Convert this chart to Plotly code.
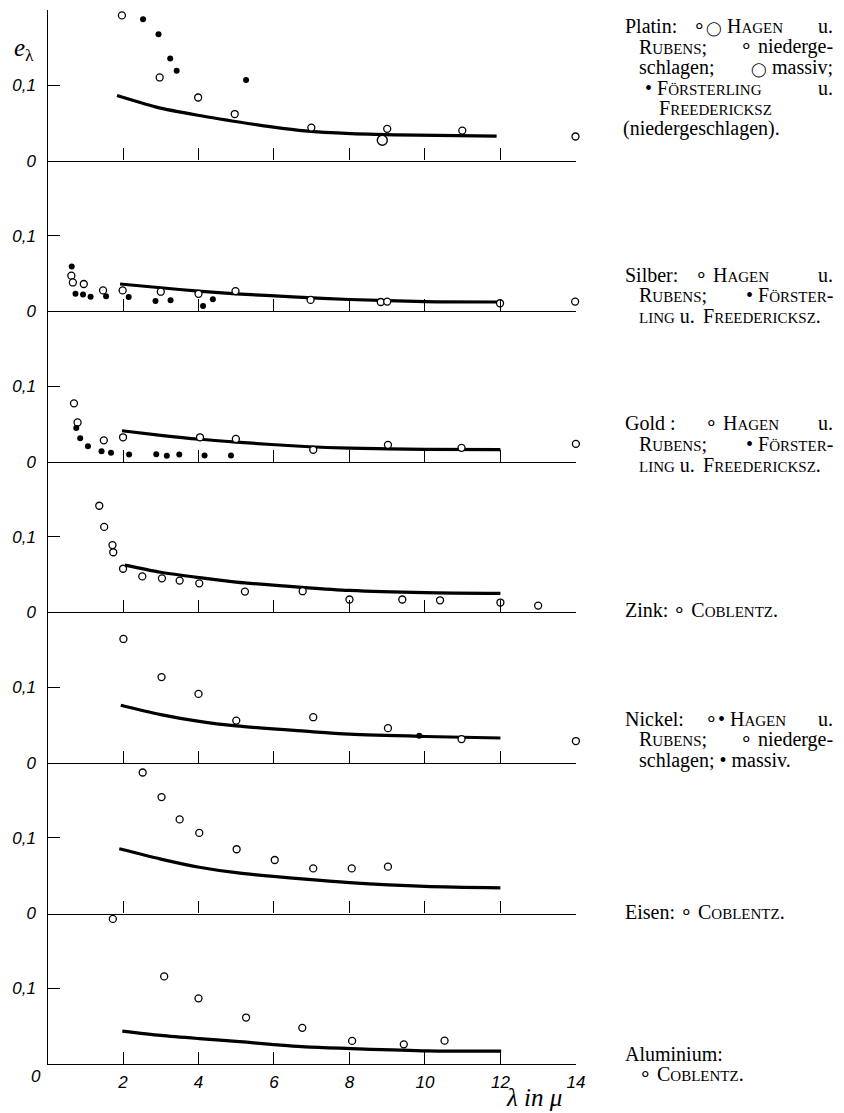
import plotly.graph_objects as go

W, H = 844, 1113
X0, X1 = 40, 574          # pixel extent of x axis (0..14)
PX_PER_UNIT_Y = 763.0     # pixels per unit of e_lambda
BASE0, STEP = 154.0, 151.95

panels = ["Platin", "Silber", "Gold", "Zink", "Nickel", "Eisen", "Aluminium"]

# ---------------- data ----------------
# Platin
pt_open_x = [1.97, 2.97, 3.99, 4.96, 6.99, 9.0, 10.99, 13.99]
pt_open_y = [0.192, 0.110, 0.0835, 0.0616, 0.0437, 0.042, 0.0397, 0.0319]
pt_big_x = [8.87]
pt_big_y = [0.027]
pt_fill_x = [2.53, 2.94, 3.25, 3.42, 5.26]
pt_fill_y = [0.187, 0.167, 0.135, 0.119, 0.1066]
pt_curve_x = [1.84, 2.88, 3.98, 5.07, 5.94, 6.82, 8.04, 9.79, 11.9]
pt_curve_y = [0.086, 0.0708, 0.060, 0.0511, 0.0446, 0.0393, 0.0358, 0.0337, 0.0323]

# Silber
ag_open_x = [0.63, 0.67, 0.96, 1.47, 1.99, 3.0, 4.0, 4.98, 6.97, 8.83, 9.0, 11.99, 13.98]
ag_open_y = [0.047, 0.038, 0.036, 0.0275, 0.0275, 0.0258, 0.023, 0.0266, 0.0149, 0.0122, 0.0127, 0.0105, 0.0127]
ag_fill_x = [0.64, 0.74, 0.94, 1.14, 1.55, 2.15, 2.86, 3.26, 4.12, 4.38]
ag_fill_y = [0.059, 0.023, 0.022, 0.019, 0.0197, 0.0187, 0.0135, 0.0144, 0.007, 0.0157]
ag_curve_x = [1.92, 3.0, 4.0, 5.0, 6.5, 8.0, 10.0, 11.97]
ag_curve_y = [0.036, 0.031, 0.0265, 0.023, 0.019, 0.0155, 0.0127, 0.0122]

# Gold
au_open_x = [0.70, 0.795, 1.49, 2.0, 4.04, 4.99, 7.04, 9.02, 10.97, 14.0]
au_open_y = [0.0773, 0.052, 0.0284, 0.0324, 0.0324, 0.0302, 0.0158, 0.0224, 0.0184, 0.0237]
au_fill_x = [0.76, 0.865, 1.07, 1.43, 1.68, 2.16, 2.88, 3.16, 3.49, 4.16, 4.86]
au_fill_y = [0.0448, 0.031, 0.0206, 0.014, 0.0118, 0.0097, 0.0101, 0.0079, 0.0097, 0.0084, 0.0084]
au_curve_x = [1.97, 3.0, 4.02, 5.0, 6.82, 8.0, 10.0, 12.0]
au_curve_y = [0.041, 0.035, 0.0298, 0.026, 0.0202, 0.018, 0.0165, 0.016]

# Zink
zn_open_x = [1.37, 1.50, 1.72, 1.74, 2.0, 2.51, 3.03, 3.50, 4.02, 5.23, 6.76, 8.0, 9.4, 10.4, 12.0, 13.0]
zn_open_y = [0.141, 0.113, 0.089, 0.0795, 0.0577, 0.0476, 0.045, 0.042, 0.0384, 0.0275, 0.028, 0.017, 0.017, 0.016, 0.013, 0.009]
zn_curve_x = [2.05, 3.0, 4.02, 5.0, 6.82, 8.0, 10.0, 12.0]
zn_curve_y = [0.0625, 0.053, 0.0459, 0.040, 0.0328, 0.029, 0.026, 0.025]

# Nickel
ni_open_x = [2.01, 3.02, 4.0, 5.0, 7.04, 9.02, 10.97, 14.0]
ni_open_y = [0.164, 0.1136, 0.0913, 0.056, 0.0605, 0.046, 0.0316, 0.029]
ni_fill_x = [9.85]
ni_fill_y = [0.036]
ni_curve_x = [1.94, 3.0, 4.02, 5.0, 6.82, 8.0, 10.0, 12.0]
ni_curve_y = [0.0764, 0.064, 0.055, 0.049, 0.042, 0.038, 0.035, 0.033]

# Eisen
fe_open_x = [2.52, 3.02, 3.5, 4.02, 5.01, 6.02, 7.04, 8.06, 9.02]
fe_open_y = [0.1865, 0.154, 0.1245, 0.1066, 0.085, 0.0708, 0.0597, 0.0597, 0.062]
fe_curve_x = [1.9, 3.0, 4.02, 5.0, 6.82, 8.0, 10.0, 12.0]
fe_curve_y = [0.0856, 0.072, 0.0612, 0.054, 0.0455, 0.041, 0.036, 0.034]

# Aluminium
al_open_x = [1.73, 3.09, 4.0, 5.26, 6.75, 8.07, 9.44, 10.52]
al_open_y = [0.192, 0.116, 0.087, 0.0616, 0.048, 0.0307, 0.0262, 0.031]
al_curve_x = [1.98, 3.0, 4.02, 5.0, 6.82, 8.04, 10.05, 12.02]
al_curve_y = [0.0437, 0.038, 0.0337, 0.030, 0.0228, 0.0206, 0.0176, 0.0171]

x_ticks = [2, 4, 6, 8, 10, 12, 14]
x_ticktext = ["2", "4", "6", "8", "10", "12", "14"]
y_ticks = [0, 0.1]
y_ticktext = ["0", "0,1"]

# --------------------------------------------------------------
panel_data = [
    dict(open=(pt_open_x, pt_open_y), big=(pt_big_x, pt_big_y), fill=(pt_fill_x, pt_fill_y), curve=(pt_curve_x, pt_curve_y)),
    dict(open=(ag_open_x, ag_open_y), fill=(ag_fill_x, ag_fill_y), curve=(ag_curve_x, ag_curve_y)),
    dict(open=(au_open_x, au_open_y), fill=(au_fill_x, au_fill_y), curve=(au_curve_x, au_curve_y)),
    dict(open=(zn_open_x, zn_open_y), curve=(zn_curve_x, zn_curve_y)),
    dict(open=(ni_open_x, ni_open_y), fill=(ni_fill_x, ni_fill_y), curve=(ni_curve_x, ni_curve_y)),
    dict(open=(fe_open_x, fe_open_y), curve=(fe_curve_x, fe_curve_y)),
    dict(open=(al_open_x, al_open_y), curve=(al_curve_x, al_curve_y)),
]

fig = go.Figure()
tickfont = dict(family="Liberation Sans", size=17, color="black", style="italic")
layout = dict(
    width=W, height=H, margin=dict(l=0, r=0, t=0, b=0),
    paper_bgcolor="white", plot_bgcolor="rgba(0,0,0,0)",
    showlegend=False,
)
n = len(panels)
yrange_top = STEP / PX_PER_UNIT_Y
for i, d in enumerate(panel_data):
    k = "" if i == 0 else str(i + 1)
    xa, ya = "x" + k, "y" + k
    base = BASE0 + i * STEP
    y0 = (H - base) / H
    y1 = min(1.0, (H - base + STEP) / H)
    last = i == n - 1
    layout["xaxis" + k] = dict(
        domain=[X0 / W, X1 / W], range=[0, 14], anchor=ya,
        showline=True, linecolor="black", linewidth=1.4,
        showgrid=False, zeroline=False,
        ticks="inside", ticklen=12, tickwidth=1, tickcolor="black",
        tickvals=x_ticks, ticktext=x_ticktext,
        showticklabels=last, tickfont=tickfont, ticklabelstandoff=2,
    )
    layout["yaxis" + k] = dict(
        domain=[y0, y1], range=[0, yrange_top], anchor=xa,
        showline=True, linecolor="black", linewidth=1.4,
        showgrid=False, zeroline=False,
        ticks="inside", ticklen=12, tickwidth=1, tickcolor="black",
        tickvals=y_ticks[1:] if last else y_ticks,
        ticktext=y_ticktext[1:] if last else y_ticktext,
        tickfont=tickfont, ticklabelstandoff=7,
    )
    cx, cy = d["curve"]
    fig.add_trace(go.Scatter(x=cx, y=cy, mode="lines", xaxis=xa, yaxis=ya,
                             line=dict(color="black", width=3.2, shape="spline", smoothing=0.8),
                             hoverinfo="skip"))
    ox, oy = d["open"]
    fig.add_trace(go.Scatter(x=ox, y=oy, mode="markers", xaxis=xa, yaxis=ya, cliponaxis=False,
                             marker=dict(symbol="circle", size=7, color="white",
                                         line=dict(color="black", width=1.3))))
    if "big" in d:
        bx, by = d["big"]
        fig.add_trace(go.Scatter(x=bx, y=by, mode="markers", xaxis=xa, yaxis=ya, cliponaxis=False,
                                 marker=dict(symbol="circle", size=10, color="white",
                                             line=dict(color="black", width=1.4))))
    if "fill" in d:
        fx, fy = d["fill"]
        fig.add_trace(go.Scatter(x=fx, y=fy, mode="markers", xaxis=xa, yaxis=ya, cliponaxis=False,
                                 marker=dict(symbol="circle", size=6, color="black")))

fig.update_layout(**layout)

# ---------------- text ----------------
SMALL = 15
def sc(word, first=True):
    if first:
        return word[0] + "<span style='font-size:%dpx'>%s</span>" % (SMALL, word[1:])
    return "<span style='font-size:%dpx'>%s</span>" % (SMALL, word)

BIGC = "<span style='font-size:14px'>◯</span>"
serif = dict(family="Liberation Serif", size=20, color="black")

def txt(s, px, py, anchor="left", font=serif):
    fig.add_annotation(text=s, x=px / W, y=1 - py / H, xref="paper", yref="paper",
                       xanchor=anchor, yanchor="middle", showarrow=False, font=font)

R = 836
# Platin
txt("Platin:", 622, 18)
txt("∘" + BIGC + " " + sc("HAGEN"), 690, 18)
txt("u.", R, 18, "right")
txt(sc("RUBENS") + ";", 636, 39)
txt("∘ niederge-", R, 39, "right")
txt("schlagen;", 636, 60)
txt(BIGC + " massiv;", R, 60, "right")
txt("• " + sc("FÖRSTERLING"), 642, 81)
txt("u.", R, 81, "right")
txt(sc("FREEDERICKSZ"), 656, 101)
txt("(niedergeschlagen).", 620, 122)
# Silber
txt("Silber:", 622, 269)
txt("∘ " + sc("HAGEN"), 692, 269)
txt("u.", R, 269, "right")
txt(sc("RUBENS") + ";", 636, 290)
txt("• " + sc("FÖRSTER") + "-", R, 290, "right")
txt(sc("LING", False) + " u.", 636, 311)
txt(sc("FREEDERICKSZ") + ".", 700, 311)
# Gold
txt("Gold :", 622, 419)
txt("∘ " + sc("HAGEN"), 702, 419)
txt("u.", R, 419, "right")
txt(sc("RUBENS") + ";", 636, 440)
txt("• " + sc("FÖRSTER") + "-", R, 440, "right")
txt(sc("LING", False) + " u.", 636, 461)
txt(sc("FREEDERICKSZ") + ".", 700, 461)
# Zink
txt("Zink: ∘ " + sc("COBLENTZ") + ".", 622, 607)
# Nickel
txt("Nickel:", 622, 717)
txt("∘• " + sc("HAGEN"), 702, 717)
txt("u.", R, 717, "right")
txt(sc("RUBENS") + ";", 636, 738)
txt("∘ niederge-", R, 738, "right")
txt("schlagen; • massiv.", 636, 759)
# Eisen
txt("Eisen: ∘ " + sc("COBLENTZ") + ".", 622, 912)
# Aluminium
txt("Aluminium:", 622, 1055)
txt("∘ " + sc("COBLENTZ") + ".", 636, 1076)

# axis label texts
txt("<i>e</i><sub>λ</sub>", 4, 42, font=dict(family="Liberation Serif", size=25, color="black"))
txt("0", 28, 1078, "center", font=tickfont)
txt("λ <i>in</i> μ", 532, 1099, "center",
    font=dict(family="Liberation Serif", size=25, color="black", style="italic"))

fig.write_html("out.html")
